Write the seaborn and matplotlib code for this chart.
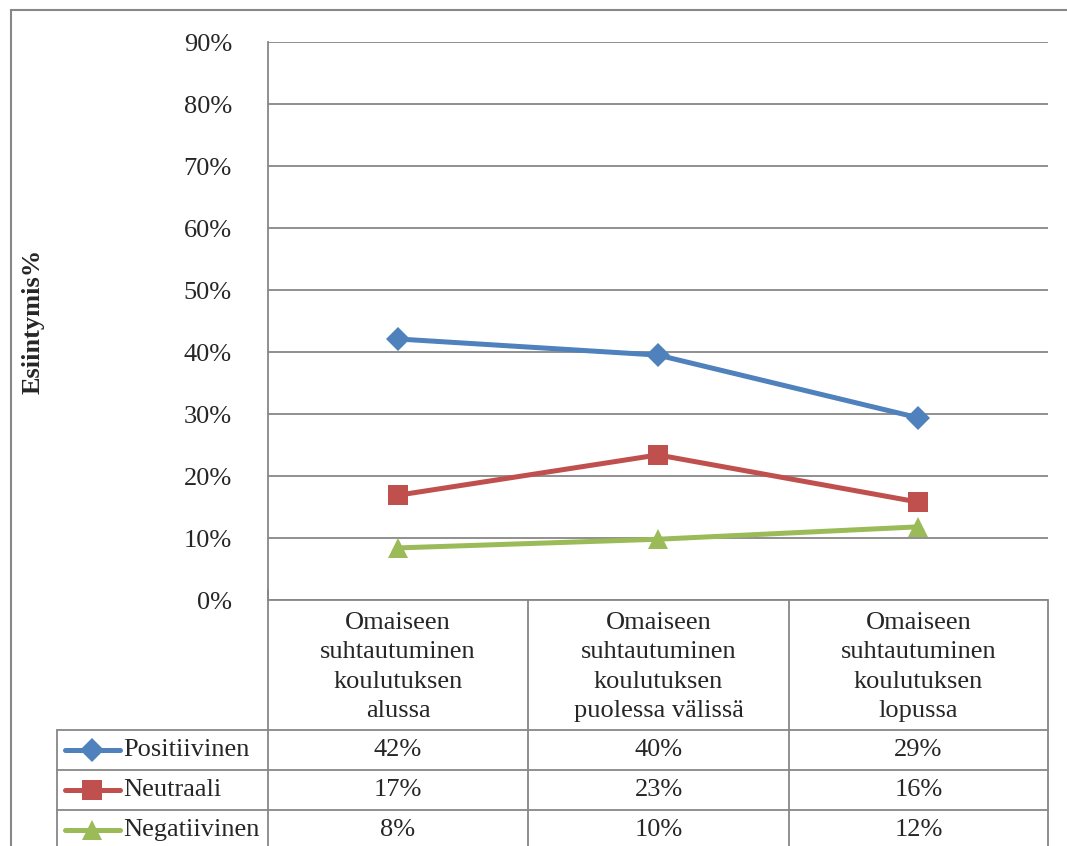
import numpy as np
import pandas as pd
import seaborn as sns
import matplotlib.pyplot as plt
from matplotlib.lines import Line2D
from matplotlib.patches import Rectangle

categories = ["Omaiseen\nsuhtautuminen\nkoulutuksen\nalussa",
              "Omaiseen\nsuhtautuminen\nkoulutuksen\npuolessa välissä",
              "Omaiseen\nsuhtautuminen\nkoulutuksen\nlopussa"]
series = ["Positiivinen", "Neutraali", "Negatiivinen"]
positiivinen = [42.1, 39.5, 29.4]
neutraali = [16.9, 23.4, 15.8]
negatiivinen = [8.4, 9.8, 11.8]
yticks = [0, 10, 20, 30, 40, 50, 60, 70, 80, 90]

colors = ["#4F81BD", "#C0504D", "#9BBB59"]
markers = ["D", "s", "^"]
msizes = [12, 14, 14]

W, H = 1067, 846

sns.set_theme(style="white")
plt.rcParams["font.family"] = ["Liberation Serif", "DejaVu Serif"]

df = pd.DataFrame({
    "pos": np.tile(np.arange(len(categories)), len(series)),
    "value": positiivinen + neutraali + negatiivinen,
    "series": np.repeat(series, len(categories)),
})

fig = plt.figure(figsize=(W / 100, H / 100), dpi=100)
ax = fig.add_axes([268 / W, 1 - 600 / H, (1048 - 268) / W, (600 - 42) / H])

sns.lineplot(data=df, x="pos", y="value", hue="series", style="series",
             palette=colors, markers=dict(zip(series, markers)), dashes=False,
             linewidth=3.6, ax=ax, legend=False)
for line, ms in zip(ax.lines, msizes):
    line.set_markersize(ms)
    line.set_markeredgewidth(0)

ax.set_xlim(-0.5, 2.5)
ax.set_ylim(0, 90)
ax.set_yticks(yticks)
ax.set_yticklabels([f"{t}%" for t in yticks], fontsize=19)
ax.set_xticks([])
ax.set_xlabel("")
ax.set_ylabel("")
ax.tick_params(axis="y", length=0, pad=26)
ax.grid(axis="y", color="#878787", linewidth=1.3)
for s in ["top", "right", "bottom"]:
    ax.spines[s].set_visible(False)
ax.spines["left"].set_color("#878787")
ax.spines["left"].set_linewidth(1.3)

fig.text(33 / W, 1 - 321 / H, "Esiintymis%", rotation=90, fontsize=19,
         fontweight="bold", ha="center", va="center")

# outer chart border
fig.patches.append(Rectangle((11 / W, -0.1), 1.2, 1 - 10 / H + 0.1,
                             transform=fig.transFigure, fill=False,
                             edgecolor="#878787", linewidth=1.5))


def px(x, y):
    return x / W, 1 - y / H


def hline(x0, x1, y):
    fig.add_artist(Line2D([x0 / W, x1 / W], [1 - y / H, 1 - y / H],
                          transform=fig.transFigure, color="#878787", linewidth=1.3))


def vline(x, y0, y1):
    fig.add_artist(Line2D([x / W, x / W], [1 - y0 / H, 1 - y1 / H],
                          transform=fig.transFigure, color="#878787", linewidth=1.3))


# data table grid
cols = [268, 528, 789, 1048]
rows = [730, 770, 810, 850]
hline(268, 1048, 600)
for y in rows[:-1]:
    hline(57, 1048, y)
for x in cols:
    vline(x, 600 if x != 268 else 590, 860)
vline(57, 730, 860)

# header cells
for i, cat in enumerate(categories):
    cx = (cols[i] + cols[i + 1]) / 2
    fig.text(*px(cx, 667), cat, ha="center", va="center", fontsize=19,
             linespacing=1.45)

# value rows
all_vals = [positiivinen, neutraali, negatiivinen]
for r, (name, vals, c, m, ms) in enumerate(zip(series, all_vals, colors, markers, msizes)):
    cy = (rows[r] + rows[r + 1]) / 2
    fig.add_artist(Line2D([65 / W, 120 / W], [1 - cy / H] * 2, transform=fig.transFigure,
                          color=c, linewidth=3.6))
    fig.add_artist(Line2D([92 / W], [1 - cy / H], transform=fig.transFigure,
                          color=c, marker=m, markersize=ms, markeredgewidth=0))
    fig.text(*px(123, cy), name, ha="left", va="center", fontsize=19)
    for i, v in enumerate(vals):
        cx = (cols[i] + cols[i + 1]) / 2
        fig.text(*px(cx, cy), f"{round(v)}%", ha="center", va="center", fontsize=19)

fig.savefig("out.png", dpi=100)
